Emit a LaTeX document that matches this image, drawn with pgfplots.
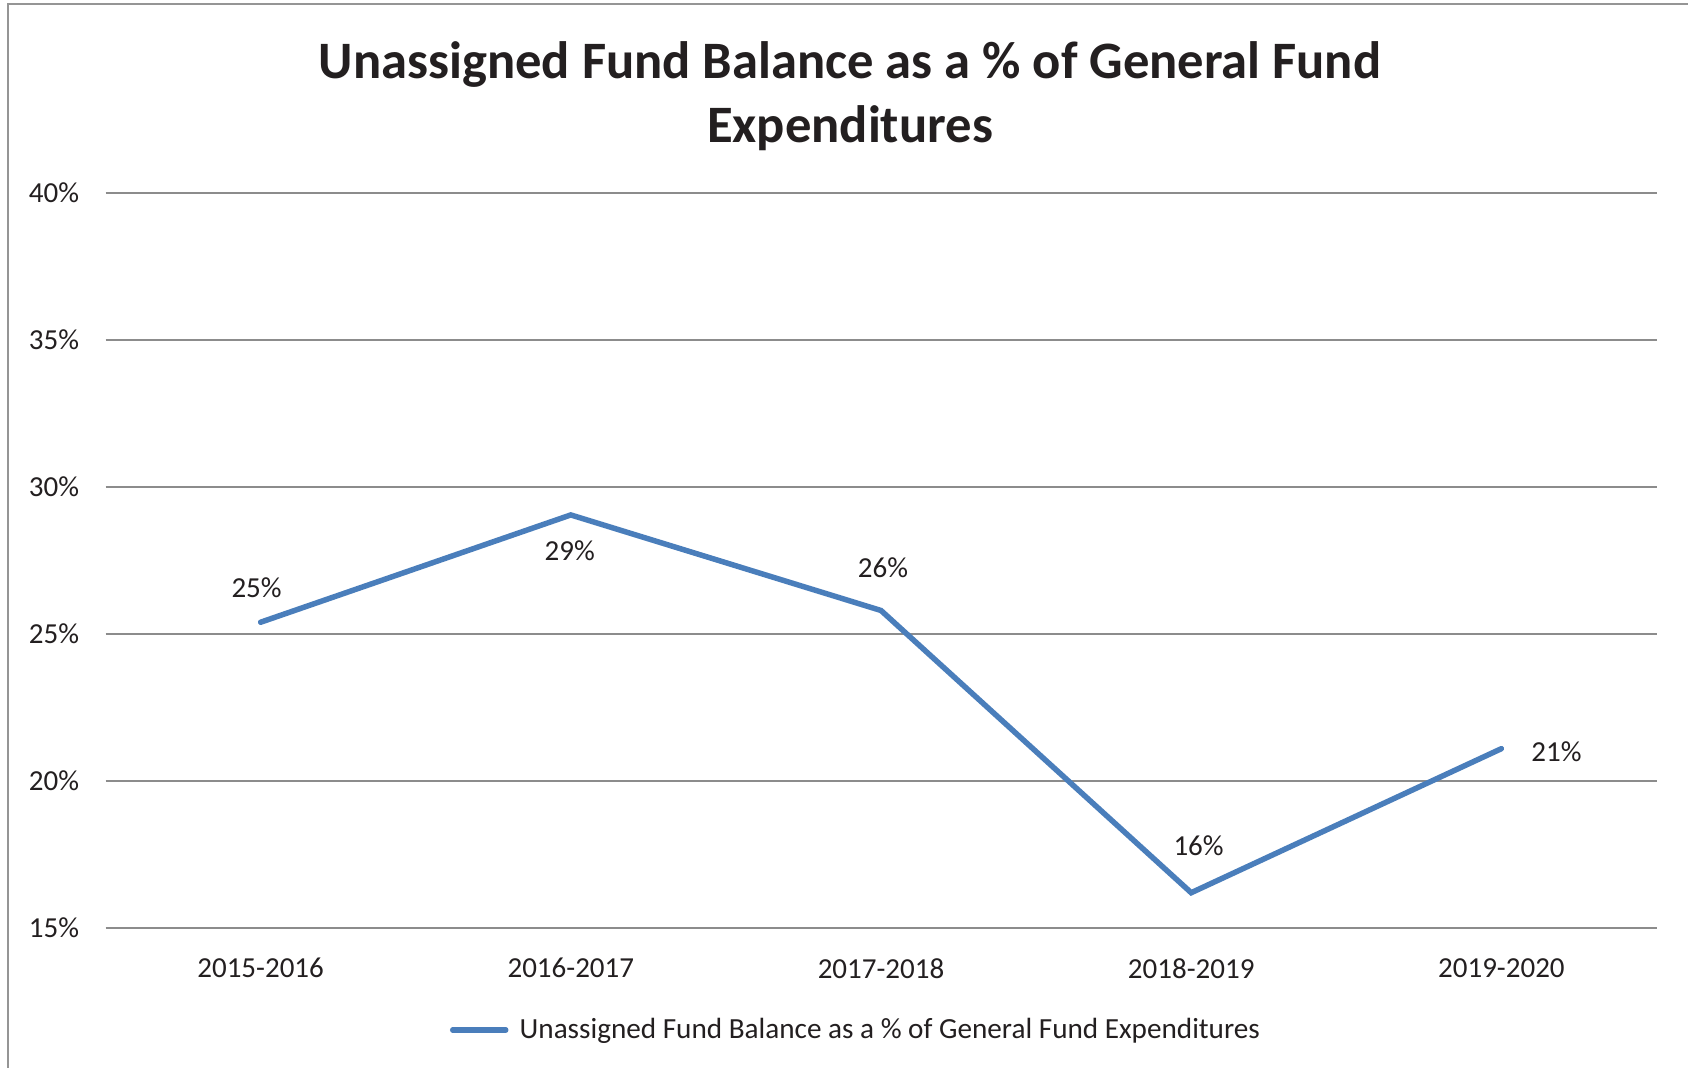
\documentclass[border=0pt]{standalone}
\usepackage{fontspec}
\setmainfont{Carlito}
\usepackage{pgfplots}
\pgfplotsset{compat=1.18}
\definecolor{lineblue}{HTML}{4A7EBB}
\definecolor{gridgray}{HTML}{8C8C8C}
\definecolor{framegray}{HTML}{959595}
\definecolor{txt}{HTML}{231F20}
\begin{document}
\begin{tikzpicture}
\useasboundingbox (0,0) rectangle (844pt,533.5pt);
\fill[white] (0,0) rectangle (844pt,533.5pt);
\draw[framegray, line width=1pt] (4pt,-2pt) -- (4pt,531.5pt) -- (846pt,531.5pt);
\node[anchor=base, font=\fontsize{26.3}{31}\selectfont\bfseries, text=txt, inner sep=0pt] at (425pt,494.35pt) {Unassigned Fund Balance as a \% of General Fund};
\node[anchor=base, font=\fontsize{26.3}{31}\selectfont\bfseries, text=txt, inner sep=0pt] at (425pt,462.05pt) {Expenditures};
\begin{axis}[
  at={(52.75pt,69.5pt)}, anchor=south west,
  scale only axis, width=775.5pt, height=367.5pt,
  xmin=-0.5, xmax=4.5, ymin=15, ymax=40,
  clip=false,
  axis line style={draw=none},
  tick style={draw=none},
  ymajorgrids,
  major grid style={gridgray, line width=1pt},
  xtick={0,1,2,3,4},
  xticklabels={2015-2016,2016-2017,2017-2018,2018-2019,2019-2020},
  ytick={15,20,25,30,35,40},
  yticklabels={15\%,20\%,25\%,30\%,35\%,40\%},
  ticklabel style={font=\fontsize{14.5}{17}\selectfont, text=txt, inner sep=0pt},
  yticklabel style={anchor=east, xshift=-13pt},
  xticklabel style={anchor=north, yshift=-15pt},
  legend style={at={(axis description cs:0.2221,-0.1388)}, anchor=west, draw=none, fill=none, inner sep=0pt, outer sep=0pt, font=\fontsize{14.6}{17}\selectfont, text=txt, nodes={inner xsep=5.6pt}},
  legend image code/.code={\draw[lineblue, line width=2.75pt, line cap=round] (0pt,0pt) -- (26.5pt,0pt);},
]
\addplot[lineblue, line width=2.75pt, line cap=round] coordinates {(0,25.4) (1,29.05) (2,25.8) (3,16.2) (4,21.1)};
\addlegendentry{Unassigned Fund Balance as a \% of General Fund Expenditures}
\begin{scope}[every node/.style={font=\fontsize{14.5}{17}\selectfont, text=txt, inner sep=0pt}]
\node[xshift=-2pt, yshift=17.25pt] at (axis cs:0,25.4) {25\%};
\node[xshift=-0.5pt, yshift=-17.7pt] at (axis cs:1,29.05) {29\%};
\node[xshift=1pt, yshift=21.25pt] at (axis cs:2,25.8) {26\%};
\node[xshift=3.7pt, yshift=23.7pt] at (axis cs:3,16.2) {16\%};
\node[xshift=27.5pt, yshift=-1.75pt] at (axis cs:4,21.1) {21\%};
\end{scope}
\end{axis}
\end{tikzpicture}
\end{document}
